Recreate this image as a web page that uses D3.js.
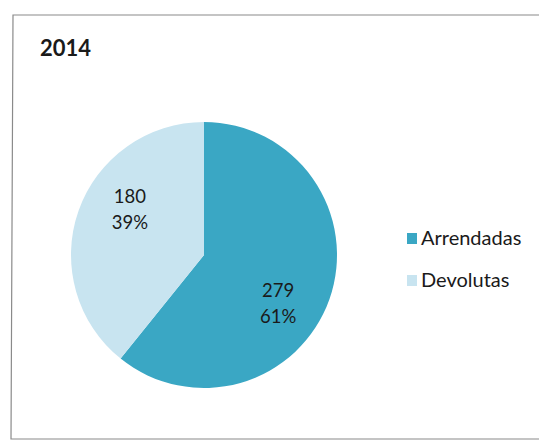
<!DOCTYPE html>
<html lang="pt">
<head>
    <meta charset="UTF-8">
    <title>2014</title>
    <script src="https://d3js.org/d3.v7.min.js"></script>
    <style>
        body { margin: 0; background: #fff; }
        text { font-family: Lato, "Open Sans", sans-serif; fill: #1a1a1a; }
        .title { font-size: 22px; font-weight: bold; }
        .lbl { font-size: 18.5px; }
        .legend text { font-size: 20px; }
    </style>
</head>
<body>
    <div id="chart"></div>
    <script>
        const categories = ['Arrendadas', 'Devolutas'];
        const values = [279, 180];
        const percentLabels = ['61%', '39%'];
        const colors = ['#3aa7c4', '#c8e4f0'];

        const W = 539, H = 441;
        const cx = 204, cy = 255, r = 133;

        const svg = d3.select("#chart").append("svg")
            .attr("width", W)
            .attr("height", H);

        // chart frame (open on the right, like the scan)
        svg.append("path")
            .attr("d", `M${W},15 L13,15 L11,439 L${W},439`)
            .attr("fill", "none")
            .attr("stroke", "#8a8a8a")
            .attr("stroke-width", 1.2);

        svg.append("text")
            .attr("class", "title")
            .attr("x", 40)
            .attr("y", 56)
            .text("2014");

        const data = categories.map((c, i) => ({cat: c, value: values[i], pct: percentLabels[i]}));

        const pie = d3.pie().sort(null).value(d => d.value);
        const arc = d3.arc().innerRadius(0).outerRadius(r);
        // labels sit a bit clockwise of the slice centre, as in the original
        const shift = 13 * Math.PI / 180;
        const labelArc = d3.arc().innerRadius(r * 0.66).outerRadius(r * 0.66);

        const g = svg.append("g").attr("transform", `translate(${cx},${cy})`);

        const slices = g.selectAll("g.slice")
            .data(pie(data))
            .enter().append("g")
            .attr("class", "slice");

        slices.append("path")
            .attr("d", arc)
            .attr("fill", (d, i) => colors[i]);

        slices.append("text")
            .attr("class", "lbl")
            .attr("text-anchor", "middle")
            .attr("transform", d => {
                const c = labelArc.centroid({startAngle: d.startAngle + shift, endAngle: d.endAngle + shift});
                return `translate(${c[0]},${c[1]})`;
            })
            .each(function(d) {
                const t = d3.select(this);
                t.append("tspan").attr("x", 0).attr("dy", "-0.25em").text(d.data.value);
                t.append("tspan").attr("x", 0).attr("dy", "1.4em").text(d.data.pct);
            });

        const legend = svg.append("g")
            .attr("class", "legend")
            .attr("transform", "translate(407,231)")
          .selectAll("g")
            .data(data)
            .enter().append("g")
            .attr("transform", (d, i) => `translate(0,${i * 42})`);

        legend.append("rect")
            .attr("width", 10)
            .attr("height", 11)
            .attr("y", 2)
            .attr("fill", (d, i) => colors[i]);

        legend.append("text")
            .attr("x", 14)
            .attr("y", 14)
            .text(d => d.cat);
    </script>
</body>
</html>
